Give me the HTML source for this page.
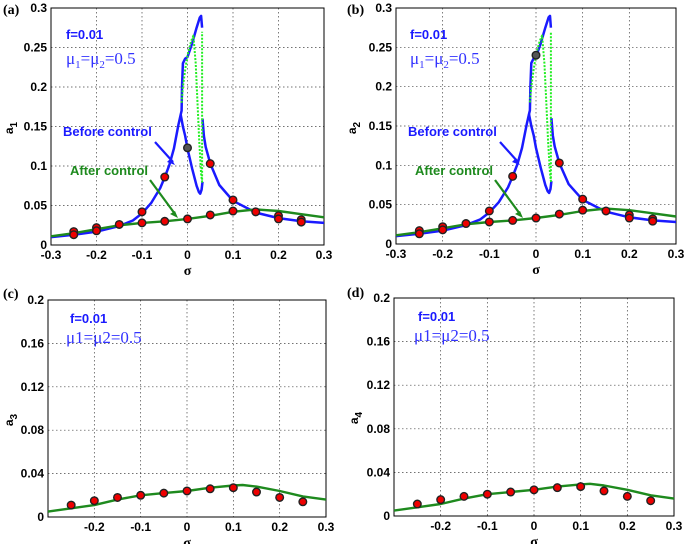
<!DOCTYPE html>
<html><head><meta charset="utf-8"><style>
html,body{margin:0;padding:0;background:#fff;}
svg{display:block;}
.tk{font-family:"Liberation Sans",sans-serif;font-weight:bold;font-size:12px;fill:#000;}
.blab{font-family:"Liberation Sans",sans-serif;font-weight:bold;font-size:13px;}
.ser{font-family:"Liberation Serif",serif;font-size:17px;fill:#3333ff;}
.pl{font-family:"Liberation Serif",serif;font-weight:bold;font-size:14px;fill:#000;}
</style></head><body>
<svg id="chart" width="685" height="544" viewBox="0 0 685 544" xmlns="http://www.w3.org/2000/svg"></svg>
<script>
// ---- data ----
const topYTicks=[0,0.05,0.1,0.15,0.2,0.25,0.3];
const topYTickLabels=["0","0.05","0.1","0.15","0.2","0.25","0.3"];
const xTicks=[-0.3,-0.2,-0.1,0,0.1,0.2,0.3];
const topXTickLabels=["-0.3","-0.2","-0.1","0","0.1","0.2","0.3"];
const botYTicks=[0,0.04,0.08,0.12,0.16,0.2];
const botYTickLabels=["0","0.04","0.08","0.12","0.16","0.2"];
const botXTickLabels=["","-0.2","-0.1","0","0.1","0.2","0.3"];

const beforeLeftX=[-0.3,-0.25,-0.2,-0.15,-0.12,-0.1,-0.08,-0.06,-0.05,-0.04,-0.03,-0.02,-0.015,-0.013,-0.012,-0.01,-0.005,0,0.01,0.02,0.027,0.03,0.032];
const beforeLeftY=[0.010,0.013,0.017,0.024,0.031,0.040,0.053,0.072,0.086,0.101,0.122,0.152,0.165,0.170,0.200,0.230,0.236,0.238,0.255,0.275,0.288,0.290,0.275];
const beforeInnerX=[-0.015,-0.01,-0.005,0,0.01,0.02,0.025,0.028,0.031,0.033];
const beforeInnerY=[0.165,0.150,0.138,0.122,0.097,0.075,0.067,0.065,0.070,0.080];
const beforeRightX=[0.033,0.036,0.04,0.05,0.07,0.1,0.15,0.2,0.25,0.3];
const beforeRightY=[0.160,0.138,0.124,0.103,0.076,0.056,0.041,0.034,0.030,0.028];
const unstableX=[-0.013,-0.01,-0.005,0,0.008,0.013,0.018,0.022,0.026,0.03,0.032,0.032];
const unstableY=[0.180,0.200,0.222,0.240,0.258,0.265,0.230,0.180,0.130,0.090,0.080,0.270];
const afterTopX=[-0.3,-0.25,-0.2,-0.15,-0.1,-0.05,0,0.05,0.1,0.15,0.2,0.25,0.3];
const afterTopY=[0.011,0.015,0.020,0.025,0.028,0.030,0.033,0.037,0.042,0.045,0.043,0.039,0.035];
const dotsTopX=[-0.25,-0.25,-0.2,-0.2,-0.15,-0.1,-0.1,-0.05,-0.05,0,0.05,0.05,0.1,0.1,0.15,0.2,0.2,0.25,0.25];
const dotsTopY=[0.017,0.013,0.022,0.018,0.026,0.042,0.028,0.086,0.030,0.033,0.103,0.038,0.057,0.043,0.042,0.037,0.033,0.032,0.029];
const specialA=[0,0.123];
const specialB=[0,0.240];
const afterBotX=[-0.3,-0.25,-0.2,-0.15,-0.1,-0.05,0,0.05,0.1,0.12,0.15,0.2,0.25,0.3];
const afterBotY=[0.005,0.008,0.011,0.016,0.020,0.022,0.024,0.027,0.029,0.0295,0.028,0.024,0.019,0.016];
const dotsBotX=[-0.25,-0.2,-0.15,-0.1,-0.05,0,0.05,0.1,0.15,0.2,0.25];
const dotsBotY=[0.011,0.015,0.018,0.020,0.022,0.024,0.026,0.027,0.023,0.018,0.014];

const NS="http://www.w3.org/2000/svg";
const svg=document.getElementById('chart');
function mk(tag,attrs,parent,text){const e=document.createElementNS(NS,tag);for(const k in attrs)e.setAttribute(k,attrs[k]);if(text!==undefined)e.textContent=text;(parent||svg).appendChild(e);return e;}

function panel(p){
  const g=mk('g',{});
  
  
  const sx=v=>p.l+(v+0.3)/0.6*(p.r-p.l);
  const sy=v=>p.b-(v/p.ymax)*(p.b-p.t);
  p.yt.forEach((v,i)=>{
    if(i>0&&i<p.yt.length-1){const gl=mk('line',{x1:p.l,x2:p.r,y1:sy(v),y2:sy(v),stroke:'#444','stroke-width':0.7,'stroke-dasharray':'1.5,2.5'},g);
    }
    const t=mk('text',{x:p.l-4,y:sy(v)+4,'text-anchor':'end',class:'tk'},g,p.ytl[i]);
    
  });
  xTicks.forEach((v,i)=>{
    if(i>0&&i<xTicks.length-1){const gl=mk('line',{x1:sx(v),x2:sx(v),y1:p.t,y2:p.b,stroke:'#444','stroke-width':0.7,'stroke-dasharray':'1.5,2.5'},g);
    }
    const t=mk('text',{x:sx(v),y:p.b+14,'text-anchor':'middle',class:'tk'},g,p.xtl[i]);
    
  });
  const fr=mk('rect',{x:p.l,y:p.t,width:p.r-p.l,height:p.b-p.t,fill:'none',stroke:'#000','stroke-width':1},g);
  
  const line=(xs,ys,col,w,dash,name)=>{
    const d=xs.map((x,i)=>(i?'L':'M')+sx(x).toFixed(1)+','+sy(ys[i]).toFixed(1)).join('');
    const a={d:d,fill:'none',stroke:col,'stroke-width':w,'stroke-linejoin':'round'};if(dash)a['stroke-dasharray']=dash;
    const e=mk('path',a,g);
    
  };
  const dot=(x,y,fill,name)=>{const c=mk('circle',{cx:sx(x),cy:sy(y),r:3.8,fill:fill,stroke:'#222','stroke-width':1.4},g);
    };
  if(p.top){
    line(beforeLeftX,beforeLeftY,'#1a1aff',2.5,null,'before-control-curve');
    line(beforeInnerX,beforeInnerY,'#1a1aff',2.5,null,'before-control-lower-branch');
    line(beforeRightX,beforeRightY,'#1a1aff',2.5,null,'before-control-right-branch');
    line(unstableX,unstableY,'#22ee22',2,'2,1.5','unstable-branch');
    line(afterTopX,afterTopY,'#1e8a1e',2.4,null,'after-control-curve');
    dotsTopX.forEach((x,i)=>dot(x,dotsTopY[i],'#ee0000','numerical-point'));
    dot(p.sp[0],p.sp[1],'#555','numerical-point-special');
  } else {
    line(afterBotX,afterBotY,'#1e8a1e',2.4,null,'after-control-curve');
    dotsBotX.forEach((x,i)=>dot(x,dotsBotY[i],'#ee0000','numerical-point'));
  }
  const yl=mk('text',{x:p.ylx,y:p.yly,transform:`rotate(-90 ${p.ylx} ${p.yly})`,'text-anchor':'middle',class:'tk','font-size':15},g);
  
  yl.textContent=p.ylab;mk('tspan',{'font-size':10,dy:4},yl,p.ysub);
  const xl=mk('text',{x:(p.l+p.r)/2,y:p.b+30,'text-anchor':'middle',class:'pl','font-weight':'normal','font-size':16},g,'σ');
  
  const pl=mk('text',{x:p.plx,y:p.ply,class:'pl'},g,p.plab);
  
  const f=mk('text',{x:p.fx,y:p.fy,class:'blab',fill:'#1a1aff'},g,'f=0.01');
  
  const m=mk('text',{x:p.mx,y:p.my,class:'ser'},g);
  
  if(p.top){m.textContent='μ';mk('tspan',{'font-size':11,dy:4},m,'1');mk('tspan',{dy:-4},m,'=μ');mk('tspan',{'font-size':11,dy:4},m,'2');mk('tspan',{dy:-4},m,'=0.5');
    const b=mk('text',{x:p.l+12,y:p.t+128,class:'blab',fill:'#1a1aff'},g,'Before control');
    
    const ar1=mk('path',{d:`M${p.l+104},${p.t+134} L${p.l+122},${p.t+154}`,stroke:'#1a1aff','stroke-width':2.2,fill:'none'},g);
    
    const h1=mk('path',{d:`M${p.l+124},${p.t+157} l-8,-3 l4,-4 z`,fill:'#1a1aff'},g);
    
    const a=mk('text',{x:p.l+19,y:p.t+167,class:'blab',fill:'#1e8a1e'},g,'After control');
    
    const ar2=mk('path',{d:`M${p.l+99},${p.t+172} L${p.l+124},${p.t+206}`,stroke:'#1e8a1e','stroke-width':2.2,fill:'none'},g);
    
    const h2=mk('path',{d:`M${p.l+127},${p.t+210} l-8,-4 l5,-3 z`,fill:'#1e8a1e'},g);
    
  } else {m.textContent='μ1=μ2=0.5';}
}
panel({name:'panel-a',top:true,l:51,r:324,t:8,b:245,ymax:0.3,yt:topYTicks,ytl:topYTickLabels,xtl:topXTickLabels,sp:specialA,ylab:'a',ysub:'1',ylx:13,yly:128,plab:'(a)',plx:3,ply:14,fx:66,fy:39,mx:66,my:64});
panel({name:'panel-b',top:true,l:396,r:676,t:8,b:244,ymax:0.3,yt:topYTicks,ytl:topYTickLabels,xtl:topXTickLabels,sp:specialB,ylab:'a',ysub:'2',ylx:356,yly:128,plab:'(b)',plx:347,ply:14,fx:410,fy:39,mx:410,my:64});
panel({name:'panel-c',top:false,l:48,r:326,t:300,b:517,ymax:0.2,yt:botYTicks,ytl:botYTickLabels,xtl:botXTickLabels,ylab:'a',ysub:'3',ylx:13,yly:420,plab:'(c)',plx:3,ply:298,fx:70,fy:323,mx:66,my:343});
panel({name:'panel-d',top:false,l:394,r:674,t:298,b:516,ymax:0.2,yt:botYTicks,ytl:botYTickLabels,xtl:botXTickLabels,ylab:'a',ysub:'4',ylx:358,yly:418,plab:'(d)',plx:347,ply:297,fx:418,fy:321,mx:414,my:341});
</script>
</body></html>
